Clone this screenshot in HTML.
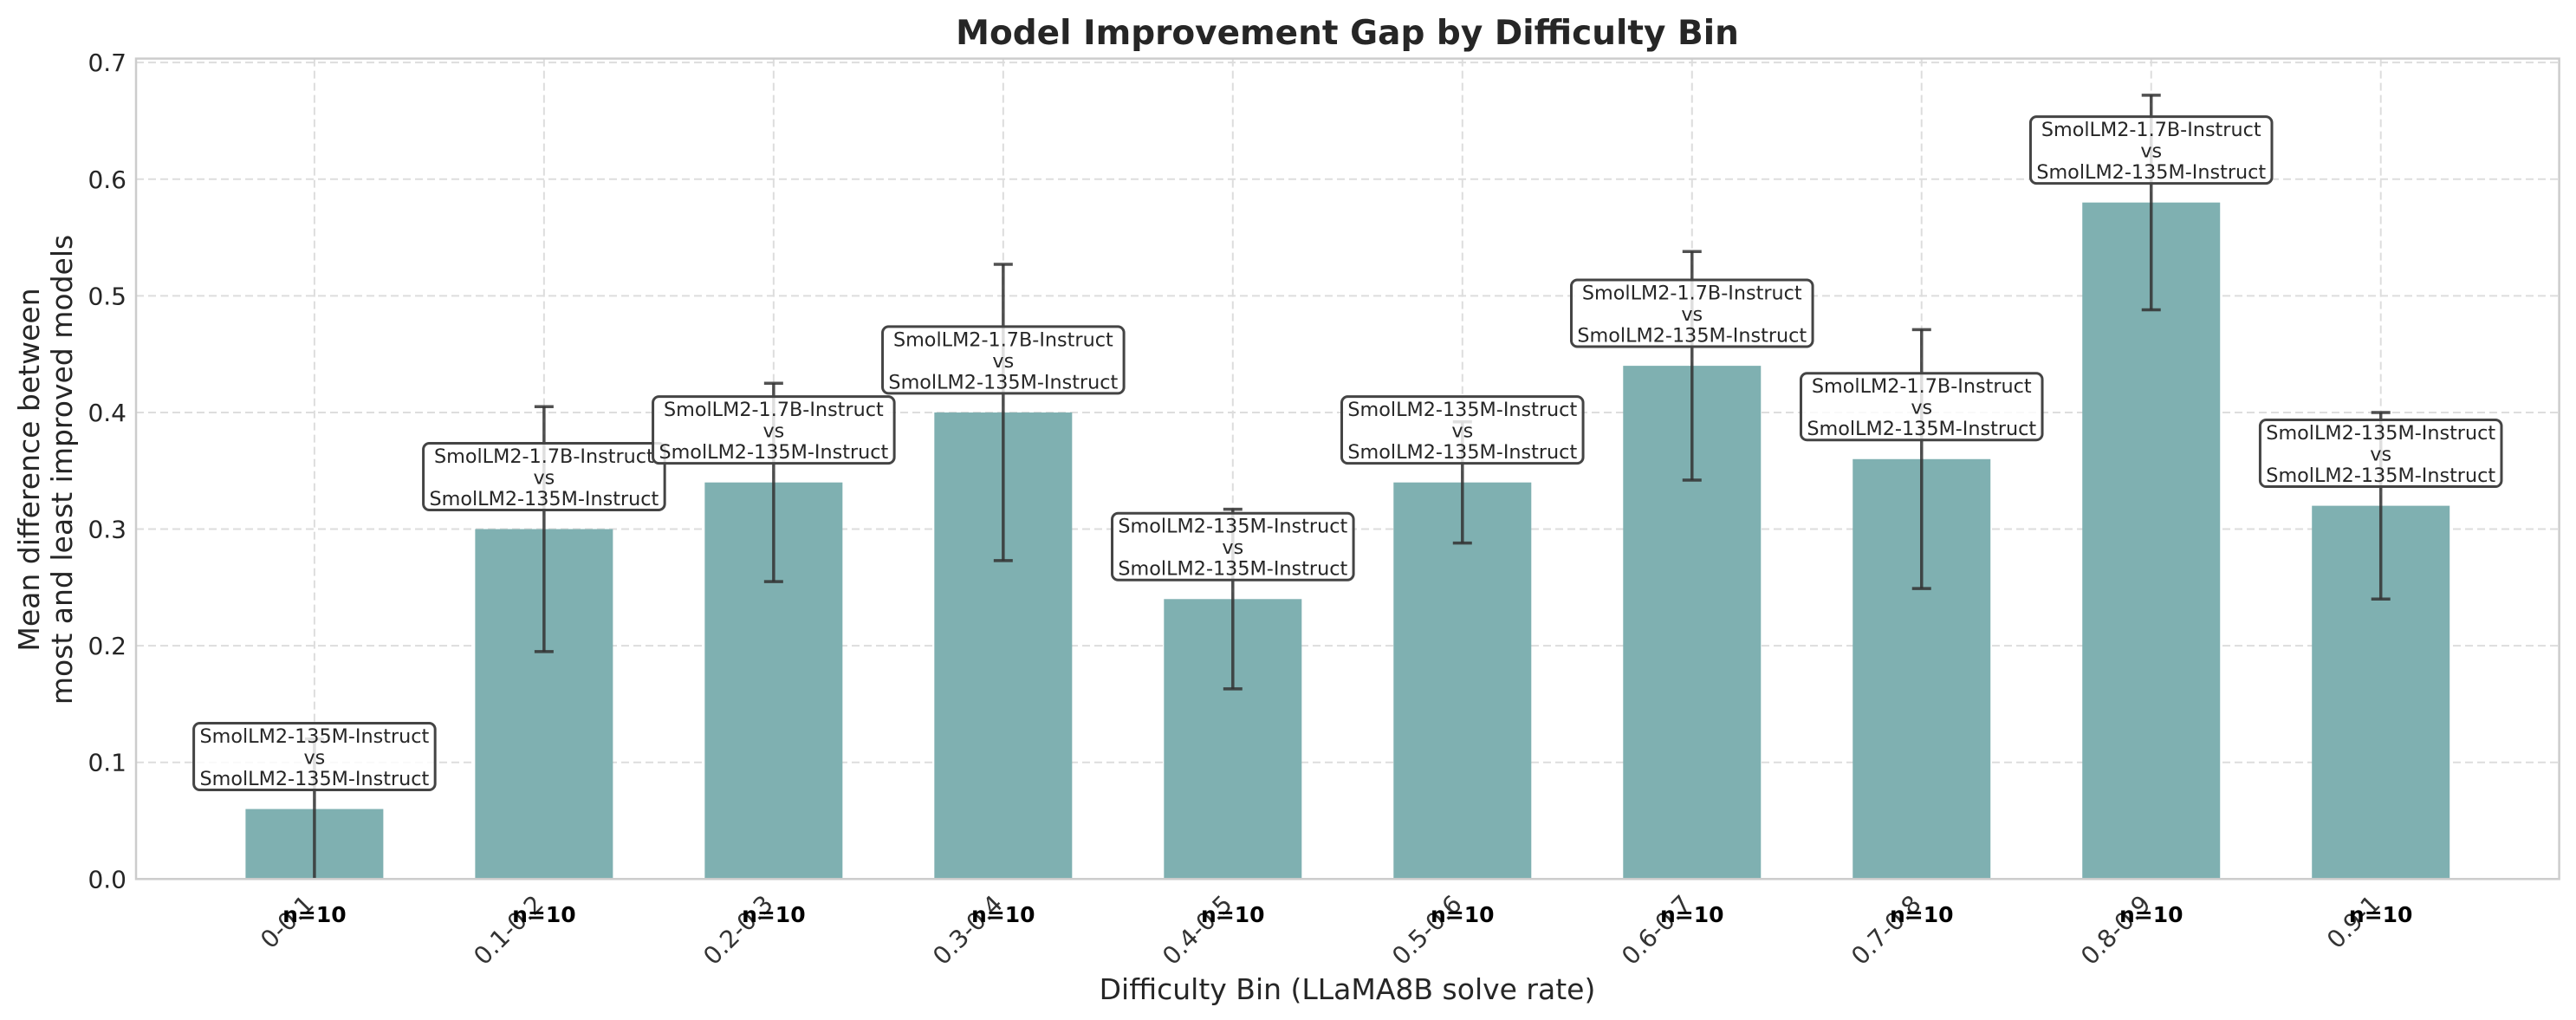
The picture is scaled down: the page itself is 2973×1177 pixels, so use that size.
<!DOCTYPE html>
<html><head><meta charset="utf-8"><style>
html,body{margin:0;padding:0;background:#fff;}
svg{display:block;font-family:"DejaVu Sans","Liberation Sans",sans-serif;}
</style></head><body>
<svg id="chart" width="2973" height="1177" viewBox="0 0 2973 1177" xmlns="http://www.w3.org/2000/svg">
<rect x="0" y="0" width="2973" height="1177" fill="#fff"/>
<g id="grid"></g>
<g id="bars"></g>
<g id="errs"></g>
<g id="labels"></g>
<rect x="157" y="67.6" width="2796.6" height="946.7" fill="none" stroke="#cccccc" stroke-width="2.5"/>
<g id="yticks"></g>
<g id="xticks"></g>
<text x="1555" y="51" text-anchor="middle" font-size="39" font-weight="bold" fill="#262626">Model Improvement Gap by Difficulty Bin</text>
<text x="1555" y="1153" text-anchor="middle" font-size="33" fill="#262626">Difficulty Bin (LLaMA8B solve rate)</text>
<g transform="translate(53,542) rotate(-90)">
<text x="0" y="-8" text-anchor="middle" font-size="33" fill="#262626">Mean difference between</text>
<text x="0" y="30" text-anchor="middle" font-size="33" fill="#262626">most and least improved models</text>
</g>
</svg>
<script>
const categories = ["0-0.1","0.1-0.2","0.2-0.3","0.3-0.4","0.4-0.5","0.5-0.6","0.6-0.7","0.7-0.8","0.8-0.9","0.9-1"];
const values = [0.06,0.30,0.34,0.40,0.24,0.34,0.44,0.36,0.58,0.32];
const errors = [0.06,0.105,0.085,0.127,0.077,0.052,0.098,0.111,0.092,0.08];
const counts = [10,10,10,10,10,10,10,10,10,10];
const modelA = ["SmolLM2-135M-Instruct","SmolLM2-1.7B-Instruct","SmolLM2-1.7B-Instruct","SmolLM2-1.7B-Instruct","SmolLM2-135M-Instruct","SmolLM2-135M-Instruct","SmolLM2-1.7B-Instruct","SmolLM2-1.7B-Instruct","SmolLM2-1.7B-Instruct","SmolLM2-135M-Instruct"];
const modelB = ["SmolLM2-135M-Instruct","SmolLM2-135M-Instruct","SmolLM2-135M-Instruct","SmolLM2-135M-Instruct","SmolLM2-135M-Instruct","SmolLM2-135M-Instruct","SmolLM2-135M-Instruct","SmolLM2-135M-Instruct","SmolLM2-135M-Instruct","SmolLM2-135M-Instruct"];
const yTicks = [0,0.1,0.2,0.3,0.4,0.5,0.6,0.7];
const yTickLabels = ["0.0","0.1","0.2","0.3","0.4","0.5","0.6","0.7"];

const NS="http://www.w3.org/2000/svg";
const X0=157, X1=2953.6, Y0=1014.3, Y1=67.6;
const xMin=-0.777, xMax=9.777, yMax=0.7034;
function xs(i){return X0+(i-xMin)/(xMax-xMin)*(X1-X0);}
function ys(v){return Y0-(v/yMax)*(Y0-Y1);}
const step=xs(1)-xs(0), bw=step*0.6;
function mk(tag,attrs,parent){const e=document.createElementNS(NS,tag);for(const k in attrs)e.setAttribute(k,attrs[k]);parent.appendChild(e);return e;}
const grid=document.getElementById('grid'),bars=document.getElementById('bars'),errs=document.getElementById('errs'),labels=document.getElementById('labels'),yt=document.getElementById('yticks'),xt=document.getElementById('xticks');

yTicks.forEach((t,k)=>{
  const l=mk('line',{x1:X0,x2:X1,y1:ys(t),y2:ys(t),stroke:'#dddddd','stroke-width':2,'stroke-dasharray':'9,5'},grid);
  
  
  const tx=mk('text',{x:146,y:ys(t)+10,'text-anchor':'end','font-size':28,fill:'#262626'},yt);
  tx.textContent=yTickLabels[k];
  
  
});
categories.forEach((c,i)=>{
  const cx=xs(i);
  const g=mk('line',{x1:cx,x2:cx,y1:Y1,y2:Y0,stroke:'#dddddd','stroke-width':2,'stroke-dasharray':'9,5'},grid);
  
  
  const b=mk('rect',{x:cx-bw/2,y:ys(values[i]),width:bw,height:Y0-ys(values[i]),fill:'#7fb0b1'},bars);
  
  
  const lo=Math.max(0,values[i]-errors[i]), hi=values[i]+errors[i];
  const eg=mk('g',{stroke:'#333','stroke-opacity':0.85,'stroke-width':3.5},errs);
  
  
  mk('line',{x1:cx,x2:cx,y1:ys(lo),y2:ys(hi)},eg);
  mk('line',{x1:cx-11,x2:cx+11,y1:ys(hi),y2:ys(hi)},eg);
  if(values[i]-errors[i]>0) mk('line',{x1:cx-11,x2:cx+11,y1:ys(lo),y2:ys(lo)},eg);
  const cy=ys(values[i]+0.045);
  const ag=mk('g',{},labels);
  
  
  const w=Math.max(modelA[i].length,modelB[i].length)*12.55+15;
  mk('rect',{x:cx-w/2,y:cy-38.5,width:w,height:77,rx:7,fill:'#fff','fill-opacity':0.82,stroke:'#444','stroke-width':3},ag);
  [modelA[i],'vs',modelB[i]].forEach((s,k)=>{
    const t=mk('text',{x:cx,y:cy-16+k*24.5,'text-anchor':'middle','font-size':22.3,fill:'#262626'},ag);
    t.textContent=s;
  });
  const tl=mk('text',{x:0,y:0,dy:'0.75em','text-anchor':'end','font-size':28,fill:'#333',transform:'translate('+(cx-14)+',1030) rotate(-45)'},xt);
  tl.textContent=c;
  
  
  const n=mk('text',{x:cx,y:1064,'text-anchor':'middle','font-size':25,'font-weight':'bold',fill:'#000'},xt);
  n.textContent='n='+counts[i];
  
  
});
</script>
</body></html>
